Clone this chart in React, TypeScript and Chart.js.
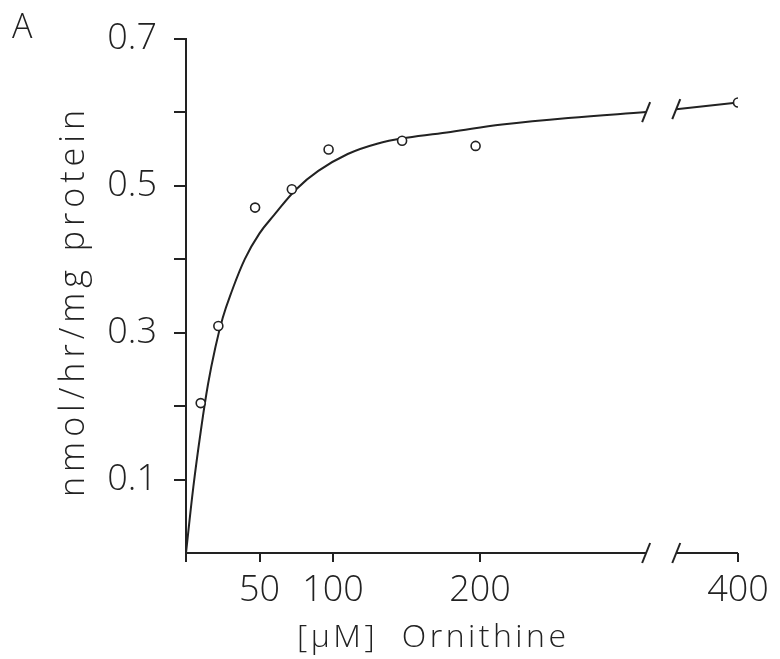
import { useEffect, useRef } from 'react';
import { Chart, registerables } from 'chart.js';

Chart.register(...registerables);

// Measured points: ornithine concentration (µM) vs rate (nmol/hr/mg protein)
const concentration = [10, 22, 47, 72, 97, 147, 197, 400];
const rate = [0.204, 0.309, 0.47, 0.495, 0.549, 0.561, 0.554, 0.613];

// Fitted curve (before the axis break)
const curveConc = [0, 5, 10, 15, 20, 25, 30, 40, 50, 60, 75, 90, 110, 130, 150, 180, 215, 260, 313];
const curveRate = [0, 0.09, 0.165, 0.23, 0.28, 0.32, 0.35, 0.4, 0.435, 0.46, 0.495, 0.52, 0.543, 0.557, 0.565, 0.573, 0.583, 0.592, 0.6];
// Fitted curve after the axis break
const curve2Conc = [358, 400];
const curve2Rate = [0.604, 0.613];

const xTickValues = [0, 50, 100, 200, 400];
const xTickLabels = ['', '50', '100', '200', '400'];
const yTickValues = [0.1, 0.2, 0.3, 0.4, 0.5, 0.6, 0.7];
const yLabelled = [0.1, 0.3, 0.5, 0.7];

const xTitle = '[\u03bcM]  Ornithine';
const yTitle = 'nmol/hr/mg protein';
const panelLabel = 'A';

// axis break: real values between BREAK_LOW and BREAK_HIGH are cut out
const BREAK_LOW = 313;
const BREAK_HIGH = 358;
const BREAK_GAP = 20.5;
const tx = (v: number) => (v <= BREAK_LOW ? v : v - (BREAK_HIGH - BREAK_LOW) + BREAK_GAP);

const INK = '#222222';
const TICK_FONT = '"Open Sans", "DejaVu Sans", sans-serif';
const TITLE_FONT = '"Open Sans", "DejaVu Sans", sans-serif';

export default function App() {
  const ref = useRef<HTMLCanvasElement>(null);

  useEffect(() => {
    if (!ref.current) return;

    const decor = {
      id: 'decor',
      afterDraw(chart: any) {
        const { ctx, scales } = chart;
        const x = scales.x;
        const y = scales.y;
        const y0 = y.getPixelForValue(0);
        const left = x.getPixelForValue(0);
        const right = x.getPixelForValue(tx(400));
        const b1 = x.getPixelForValue(tx(BREAK_LOW));
        const b2 = x.getPixelForValue(tx(BREAK_HIGH));
        ctx.save();
        ctx.strokeStyle = INK;
        ctx.lineWidth = 2;
        ctx.lineCap = 'butt';
        // x axis line with break
        ctx.beginPath();
        ctx.moveTo(left, y0);
        ctx.lineTo(b1, y0);
        ctx.moveTo(b2, y0);
        ctx.lineTo(right, y0);
        ctx.stroke();
        const slash = (px: number, py: number) => {
          ctx.beginPath();
          ctx.moveTo(px - 4, py + 10);
          ctx.lineTo(px + 4, py - 10);
          ctx.stroke();
        };
        slash(b1, y0);
        slash(b2, y0);
        slash(b1, y.getPixelForValue(curveRate[curveRate.length - 1]));
        slash(b2, y.getPixelForValue(curve2Rate[0]));

        // titles
        ctx.fillStyle = INK;
        ctx.textBaseline = 'alphabetic';
        ctx.font = `300 32px ${TITLE_FONT}`;
        (ctx as any).letterSpacing = '3.5px';
        ctx.textAlign = 'left';
        ctx.fillText(xTitle, 297, 647);

        ctx.save();
        ctx.font = `300 34px ${TITLE_FONT}`;
        (ctx as any).letterSpacing = '5px';
        ctx.translate(84, 301);
        ctx.rotate(-Math.PI / 2);
        ctx.textAlign = 'center';
        ctx.fillText(yTitle, 0, 0);
        ctx.restore();

        (ctx as any).letterSpacing = '0px';
        ctx.font = `300 34px ${TITLE_FONT}`;
        ctx.textAlign = 'left';
        ctx.fillText(panelLabel, 12, 38);
        ctx.restore();
      },
    };

    const tickFont = { family: TICK_FONT, size: 36, weight: '300' };

    const chart = new Chart(ref.current, {
      type: 'scatter',
      data: {
        datasets: [
          {
            data: concentration.map((c, i) => ({ x: tx(c), y: rate[i] })),
            showLine: false,
            pointRadius: 4.5,
            pointBorderWidth: 1.6,
            pointBackgroundColor: '#ffffff',
            pointBorderColor: INK,
          },
          {
            data: curveConc.map((c, i) => ({ x: tx(c), y: curveRate[i] })),
            showLine: true,
            pointRadius: 0,
            borderColor: INK,
            borderWidth: 2,
            tension: 0.4,
          },
          {
            data: curve2Conc.map((c, i) => ({ x: tx(c), y: curve2Rate[i] })),
            showLine: true,
            pointRadius: 0,
            borderColor: INK,
            borderWidth: 2,
          },
        ],
      },
      options: {
        responsive: false,
        animation: false,
        events: [],
        layout: { padding: { left: 0, right: 42, top: 37, bottom: 0 } },
        plugins: { legend: { display: false }, tooltip: { enabled: false } },
        scales: {
          x: {
            type: 'linear',
            min: 0,
            max: tx(400),
            afterFit: (s: any) => {
              s.height = 106;
            },
            afterBuildTicks: (s: any) => {
              s.ticks = xTickValues.map((v) => ({ value: tx(v) }));
            },
            border: { display: false },
            grid: {
              drawOnChartArea: false,
              drawTicks: true,
              tickLength: 9,
              color: INK,
              lineWidth: 2,
            },
            ticks: {
              color: INK,
              padding: 7,
              font: tickFont,
              maxRotation: 0,
              autoSkip: false,
              callback: (v: any) => {
                const i = xTickValues.findIndex((t) => Math.abs(tx(t) - Number(v)) < 0.01);
                return i >= 0 ? xTickLabels[i] : '';
              },
            },
          },
          y: {
            type: 'linear',
            min: 0,
            max: 0.7,
            afterFit: (s: any) => {
              s.width = 186;
            },
            afterBuildTicks: (s: any) => {
              s.ticks = yTickValues.map((v) => ({ value: v }));
            },
            border: { display: true, color: INK, width: 2 },
            grid: {
              drawOnChartArea: false,
              drawTicks: true,
              tickLength: 12,
              color: INK,
              lineWidth: 2,
            },
            ticks: {
              color: INK,
              padding: 17,
              font: tickFont,
              autoSkip: false,
              callback: (v: any) => {
                const n = Number(v);
                return yLabelled.some((t) => Math.abs(t - n) < 1e-6) ? n.toFixed(1) : '';
              },
            },
          },
        },
      },
      plugins: [decor],
    } as any);

    return () => chart.destroy();
  }, []);

  return (
    <canvas
      ref={ref}
      width={780}
      height={659}
      style={{ position: 'absolute', left: 0, top: 0, display: 'block', background: '#fff' }}
    />
  );
}
